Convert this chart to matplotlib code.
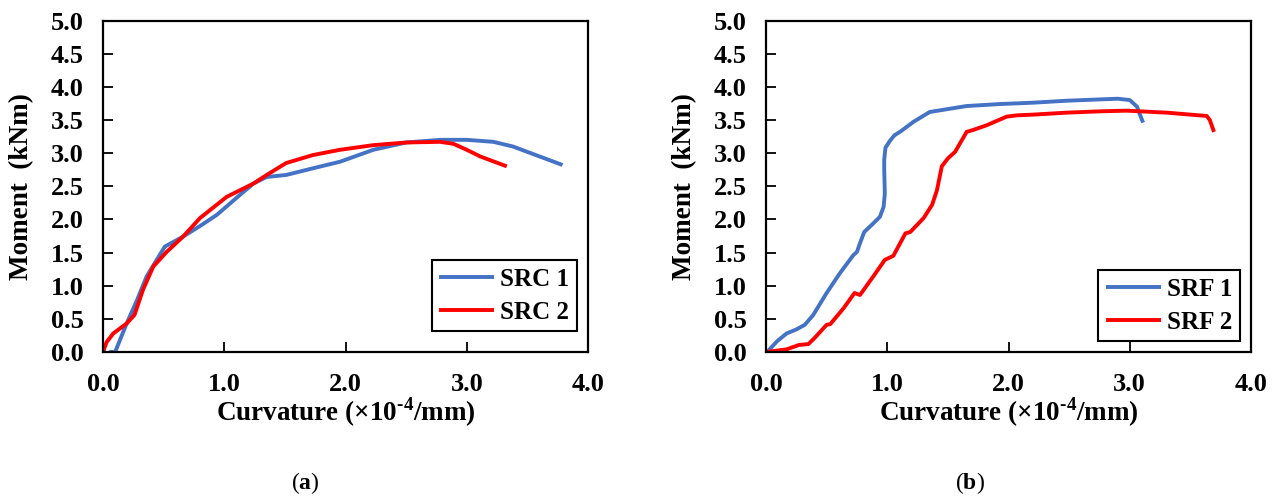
import numpy as np
import matplotlib
matplotlib.use("Agg")
import matplotlib.pyplot as plt

# moment-curvature curves, curvature in 1e-4/mm, moment in kNm
src1_x = [0.05, 0.10, 0.195, 0.28, 0.36, 0.51, 0.66, 0.80, 0.94, 1.13, 1.24, 1.35, 1.51,
          1.73, 1.955, 2.23, 2.50, 2.78, 3.00, 3.22, 3.38, 3.60, 3.79]
src1_y = [0.0, 0.0, 0.43, 0.78, 1.14, 1.59, 1.74, 1.90, 2.07, 2.37, 2.54, 2.64, 2.67,
          2.77, 2.87, 3.05, 3.16, 3.20, 3.20, 3.17, 3.10, 2.95, 2.82]

src2_x = [0.0, 0.03, 0.085, 0.195, 0.26, 0.33, 0.415, 0.525, 0.66, 0.80, 1.02, 1.13, 1.24,
          1.35, 1.51, 1.73, 1.955, 2.23, 2.50, 2.78, 2.89, 3.00, 3.11, 3.33]
src2_y = [0.0, 0.15, 0.28, 0.43, 0.56, 0.94, 1.29, 1.51, 1.74, 2.02, 2.34, 2.44, 2.54,
          2.67, 2.85, 2.97, 3.05, 3.12, 3.16, 3.17, 3.14, 3.05, 2.95, 2.80]

srf1_x = [0.01, 0.09, 0.17, 0.25, 0.32, 0.39, 0.50, 0.61, 0.72, 0.75, 0.775, 0.81, 0.885,
          0.94, 0.97, 0.98, 0.975, 0.975, 0.985, 1.02, 1.06, 1.105, 1.215, 1.35, 1.655,
          1.93, 2.20, 2.48, 2.755, 2.90, 3.00, 3.06, 3.08, 3.11]
srf1_y = [0.0, 0.16, 0.28, 0.34, 0.41, 0.56, 0.89, 1.19, 1.46, 1.51, 1.64, 1.81, 1.94,
          2.04, 2.19, 2.39, 2.75, 2.90, 3.08, 3.18, 3.27, 3.32, 3.47, 3.62, 3.71,
          3.74, 3.76, 3.79, 3.81, 3.82, 3.80, 3.70, 3.60, 3.46]

srf2_x = [0.0, 0.17, 0.27, 0.35, 0.40, 0.50, 0.53, 0.64, 0.73, 0.775, 0.885, 0.98, 1.05,
          1.15, 1.19, 1.30, 1.37, 1.41, 1.45, 1.50, 1.56, 1.655, 1.71, 1.82, 1.985, 2.07,
          2.20, 2.48, 2.755, 2.975, 3.305, 3.635, 3.66, 3.695]
srf2_y = [0.0, 0.04, 0.105, 0.12, 0.21, 0.41, 0.42, 0.66, 0.89, 0.86, 1.14, 1.39, 1.45,
          1.79, 1.81, 2.02, 2.22, 2.44, 2.80, 2.92, 3.02, 3.32, 3.35, 3.42, 3.55, 3.57,
          3.58, 3.61, 3.63, 3.64, 3.61, 3.56, 3.50, 3.32]

x_ticks = [0.0, 1.0, 2.0, 3.0, 4.0]
y_ticks = [0.0, 0.5, 1.0, 1.5, 2.0, 2.5, 3.0, 3.5, 4.0, 4.5, 5.0]

BLUE = "#4472C4"
RED = "#FF0000"
SERIF = "Liberation Serif"

plt.rcParams["font.family"] = SERIF
plt.rcParams["mathtext.fontset"] = "custom"
plt.rcParams["mathtext.rm"] = SERIF + ":bold"
plt.rcParams["mathtext.bf"] = SERIF + ":bold"

W, H = 1278, 496
fig = plt.figure(figsize=(W / 100, H / 100), dpi=100)


def make_axes(left_px, top_px, w_px, h_px):
    return fig.add_axes([left_px / W, 1 - (top_px + h_px) / H, w_px / W, h_px / H])


def style_panel(ax, curves, legend_anchor, caption, cap_x):
    for xs, ys, col, lab in curves:
        ax.plot(xs, ys, color=col, lw=2.8, label=lab, solid_capstyle="butt",
                solid_joinstyle="round")
    ax.set_xlim(0, 4)
    ax.set_ylim(0, 5)
    ax.set_xticks(x_ticks)
    ax.set_yticks(y_ticks)
    ax.set_xticklabels([f"{v:.1f}" for v in x_ticks])
    ax.set_yticklabels([f"{v:.1f}" for v in y_ticks])
    ax.tick_params(direction="in", length=7, width=1.3, labelsize=19)
    ax.tick_params(axis="y", pad=14)
    ax.tick_params(axis="x", pad=15)
    for lbl in ax.get_xticklabels() + ax.get_yticklabels():
        lbl.set_fontweight("bold")
    for sp in ax.spines.values():
        sp.set_linewidth(1.6)
    ax.set_xlabel(r"Curvature (×10$^{\text{-4}}$/mm)", fontsize=19.5,
                  fontweight="bold", labelpad=0)
    ax.set_ylabel("Moment  (kNm)", fontsize=19.5, fontweight="bold", labelpad=12)
    leg = ax.legend(loc="lower right", bbox_to_anchor=legend_anchor, borderaxespad=0,
                    fancybox=False, framealpha=1, edgecolor="black",
                    prop={"family": SERIF, "weight": "bold", "size": 18},
                    handlelength=2.2, handletextpad=0.25, borderpad=0.3,
                    labelspacing=0.4)
    leg.get_frame().set_linewidth(1.5)
    fig.text(cap_x / W, 1 - 483 / H, caption, ha="center", va="center", fontsize=17)


ax_a = make_axes(103, 20.5, 485, 331.5)
style_panel(ax_a, [(src1_x, src1_y, BLUE, "SRC 1"), (src2_x, src2_y, RED, "SRC 2")],
            (0.977, 0.063), r"($\mathbf{a}$)", 305)

ax_b = make_axes(766, 20.5, 485, 331.5)
style_panel(ax_b, [(srf1_x, srf1_y, BLUE, "SRF 1"), (srf2_x, srf2_y, RED, "SRF 2")],
            (0.977, 0.033), r"($\mathbf{b}$)", 970)

fig.savefig("out.png", dpi=100)
